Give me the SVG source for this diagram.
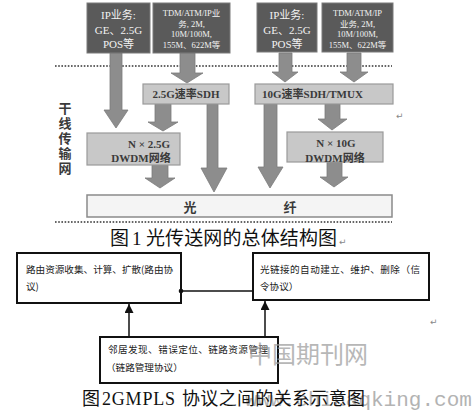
<svg xmlns="http://www.w3.org/2000/svg" width="474" height="412" viewBox="0 0 474 412">
<style>
.dark{fill:#5a5a5a;stroke:#7a7a7a;stroke-width:1}
.light{fill:#c8c8c8;stroke:#9a9a9a;stroke-width:1.2}
.fiber{fill:#f4f4f4;stroke:#8a8a8a;stroke-width:1.5}
.arr{fill:#8d8d8d;stroke:#7c7c7c;stroke-width:0.8}
.dot{fill:none;stroke:#333;stroke-width:1.6;stroke-dasharray:1.6,1.6}
.wt{font-family:"Liberation Serif","Noto Sans CJK SC",serif;fill:#f2f2f2;text-anchor:middle}
.lt{font-family:"Liberation Serif","Noto Sans CJK SC",serif;fill:#3a3a3a;font-weight:bold}
.bx{fill:#fff;stroke:#111;stroke-width:2}
.bt{font-family:"Noto Sans CJK SC",sans-serif;font-size:9.6px;fill:#222}
.con{stroke:#111;stroke-width:1.5;fill:none}
.cap{font-family:"Liberation Serif","Noto Sans CJK SC",serif;fill:#111}
.pm{font-family:"DejaVu Sans",sans-serif;font-size:9px;fill:#888}
.wm{font-family:"Noto Sans CJK SC",sans-serif;fill:#9a9a9a}
</style>
<defs>
<marker id="ah" viewBox="0 0 10 10" refX="10" refY="5" markerWidth="6" markerHeight="6" orient="auto"><path d="M0,0 L10,5 L0,10 z" fill="#111"/></marker>
</defs>
<rect width="474" height="412" fill="#fff"/>

<g id="figure1">
<line class="dot" x1="55" y1="66" x2="392" y2="66"/>
<line class="dot" x1="55" y1="222" x2="392" y2="222"/>
<text class="lt" font-size="13" text-anchor="middle" x="65" y="113">干</text>
<text class="lt" font-size="13" text-anchor="middle" x="65" y="128">线</text>
<text class="lt" font-size="13" text-anchor="middle" x="65" y="143">传</text>
<text class="lt" font-size="13" text-anchor="middle" x="65" y="158">输</text>
<text class="lt" font-size="13" text-anchor="middle" x="65" y="173">网</text>
</g>

<g id="connectors1">
<polygon class="arr" points="110,53 122,53 122,110 128,110 116,128 104,110 110,110"/>
<polygon class="arr" points="180,53 195,53 195,73 203,73 187,83 171,73 180,73"/>
<polygon class="arr" points="155,104 171,104 171,122 178,122 163,131 148,122 155,122"/>
<polygon class="arr" points="207,104 218,104 218,168 227,168 214,192 201,168 207,168"/>
<polygon class="arr" points="152,165 168,165 168,178 175,178 160,188 145,178 152,178"/>
<polygon class="arr" points="279,53 292,53 292,72 298,72 285,82 272,72 279,72"/>
<polygon class="arr" points="347,53 361,53 361,72 368,72 354,82 340,72 347,72"/>
<polygon class="arr" points="264,104 277,104 277,167 283,167 270,188 258,167 264,167"/>
<polygon class="arr" points="325,104 340,104 340,119 347,119 332,130 318,119 325,119"/>
<polygon class="arr" points="327,162 342,162 342,177 348,177 334,187 320,177 327,177"/>
</g>

<g id="ip1">
<rect class="dark" x="87" y="3" width="63" height="50"/>
<text class="wt" font-size="11" x="118.5" y="19">IP业务:</text>
<text class="wt" font-size="11" x="118.5" y="34">GE、2.5G</text>
<text class="wt" font-size="11" x="118.5" y="48">POS等</text>
</g>
<g id="tdm1">
<rect class="dark" x="153" y="3" width="77" height="50"/>
<text class="wt" font-size="8.5" x="191.5" y="16">TDM/ATM/IP业</text>
<text class="wt" font-size="8.5" x="191.5" y="27">务, 2M,</text>
<text class="wt" font-size="8.5" x="191.5" y="37">10M/100M,</text>
<text class="wt" font-size="8.5" x="191.5" y="48">155M、622M等</text>
</g>
<g id="ip2">
<rect class="dark" x="257" y="3" width="60" height="49"/>
<text class="wt" font-size="11" x="287" y="19">IP业务:</text>
<text class="wt" font-size="11" x="287" y="34">GE、2.5G</text>
<text class="wt" font-size="11" x="287" y="48">POS等</text>
</g>
<g id="tdm2">
<rect class="dark" x="322" y="3" width="71" height="49"/>
<text class="wt" font-size="8.5" x="357.5" y="16">TDM/ATM/IP</text>
<text class="wt" font-size="8.5" x="357.5" y="27">业务, 2M,</text>
<text class="wt" font-size="8.5" x="357.5" y="37">10M/100M,</text>
<text class="wt" font-size="8.5" x="357.5" y="48">155M、622M等</text>
</g>
<g id="sdh25">
<rect class="light" x="143" y="84" width="86" height="20"/>
<text class="lt" font-size="11" text-anchor="middle" x="186" y="98">2.5G速率SDH</text>
</g>
<g id="sdh10">
<rect class="light" x="255" y="84" width="138" height="20"/>
<text class="lt" font-size="11" x="262" y="98">10G速率SDH/TMUX</text>
</g>
<g id="dwdm25">
<rect class="light" x="87" y="133" width="93" height="32"/>
<text class="lt" font-size="11" text-anchor="middle" x="149" y="148">N × 2.5G</text>
<text class="lt" font-size="11" text-anchor="middle" x="141" y="162">DWDM网络</text>
</g>
<g id="dwdm10">
<rect class="light" x="287" y="132" width="96" height="30"/>
<text class="lt" font-size="11" text-anchor="middle" x="336" y="147">N × 10G</text>
<text class="lt" font-size="11" text-anchor="middle" x="335" y="162">DWDM网络</text>
</g>
<g id="fiber">
<rect class="fiber" x="87" y="195" width="305" height="22"/>
<text class="lt" font-size="13" text-anchor="middle" x="190" y="212">光</text>
<text class="lt" font-size="13" text-anchor="middle" x="290" y="212">纤</text>
</g>
<text class="pm" x="396" y="119">↵</text>

<g id="caption1">
<text class="cap" font-size="19" x="110" y="245">图</text>
<text class="cap" font-size="19" x="132" y="245">1</text>
<text class="cap" font-size="19" x="146" y="245" textLength="191">光传送网的总体结构图</text>
<text class="pm" x="339" y="245">↵</text>
</g>

<g id="routing">
<rect class="bx" x="17" y="253" width="164" height="50"/>
<text class="bt" x="26" y="273">路由资源收集、计算、扩散(路由协</text>
<text class="bt" x="26" y="290">议)</text>
</g>
<g id="signaling">
<rect class="bx" x="253" y="253" width="176" height="47"/>
<text class="bt" x="260" y="273" textLength="160">光链接的自动建立、维护、删除（信</text>
<text class="bt" x="260" y="290">令协议）</text>
</g>
<g id="linkmgmt">
<rect class="bx" x="100" y="337" width="178" height="46"/>
<text class="bt" x="108" y="353" textLength="160">邻居发现、错误定位、链路资源管理</text>
<text class="bt" x="106" y="371">（链路管理协议）</text>
</g>

<g id="connectors2">
<line class="con" x1="181" y1="291" x2="253" y2="291"/>
<circle cx="181" cy="291" r="2.3" fill="#111"/>
<line class="con" x1="129" y1="337" x2="129" y2="304" marker-end="url(#ah)"/>
<line class="con" x1="265" y1="337" x2="265" y2="301" marker-end="url(#ah)"/>
</g>
<text class="pm" x="430" y="325">↵</text>

<g id="watermark">
<text class="wm" font-size="24" x="248" y="363" opacity="0.7">中国期刊网</text>
<text font-family="Liberation Mono,monospace" font-size="21" x="245" y="406" fill="#9a9a9a" opacity="0.75">www.chinaqking.com</text>
</g>

<g id="caption2">
<text class="cap" font-size="18" x="82" y="405">图</text>
<text class="cap" font-size="18" x="102" y="405" textLength="73">2GMPLS</text>
<text class="cap" font-size="18" x="182" y="405" textLength="183">协议之间的关系示意图</text>
</g>
</svg>
